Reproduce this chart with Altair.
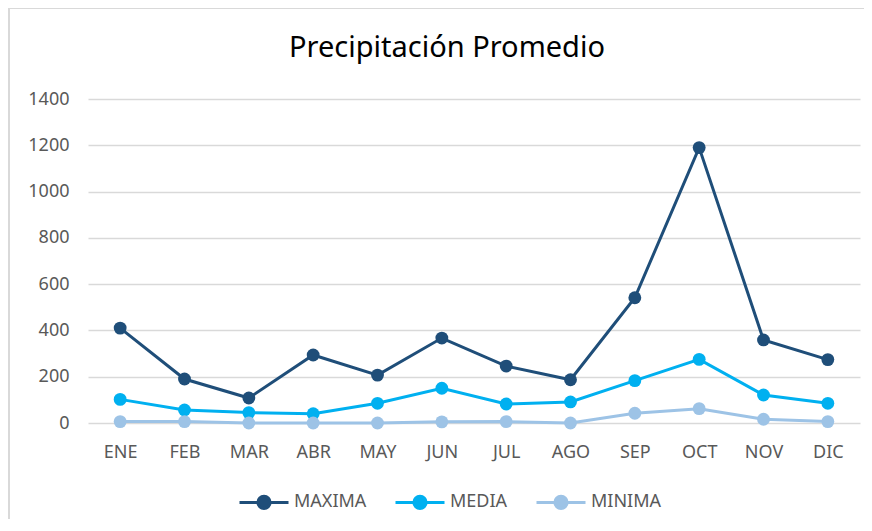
import altair as alt
import pandas as pd

months = ["ENE", "FEB", "MAR", "ABR", "MAY", "JUN", "JUL", "AGO", "SEP", "OCT", "NOV", "DIC"]
series = ["MAXIMA", "MEDIA", "MINIMA"]
maxima = [410, 190, 108, 294, 207, 367, 246, 187, 541, 1190, 359, 274]
media = [102, 56, 45, 40, 85, 150, 82, 91, 183, 275, 121, 85]
minima = [6, 6, 0, 0, 0, 5, 6, 0, 42, 62, 16, 6]
colors = ["#1F4E79", "#00B0F0", "#9DC3E6"]
y_ticks = [0, 200, 400, 600, 800, 1000, 1200, 1400]

rows = []
for name, vals in zip(series, [maxima, media, minima]):
    for m, v in zip(months, vals):
        rows.append({"Mes": m, "Serie": name, "Valor": v})
df = pd.DataFrame(rows)

FONT = "Noto Sans"
TXT = "#595959"
GRID = "#D9D9D9"

legend_path = ("M-1,0H1M0.25,0A0.25,0.25,0,1,1,-0.25,0"
               "A0.25,0.25,0,1,1,0.25,0Z")

x_enc = alt.X("Mes:N", sort=months,
              scale=alt.Scale(type="point", padding=0.5),
              axis=alt.Axis(title=None, labelAngle=0, ticks=False, domain=False,
                            grid=False, labelFontSize=18, labelColor=TXT,
                            labelFont=FONT, labelPadding=20))
y_enc = alt.Y("Valor:Q",
              scale=alt.Scale(domain=[0, 1400], nice=False),
              axis=alt.Axis(title=None, values=y_ticks, format="d", ticks=False,
                            domain=False, gridColor=GRID, gridWidth=1.5,
                            labelFontSize=18, labelColor=TXT, labelFont=FONT,
                            labelPadding=19))
color_enc = alt.Color("Serie:N", sort=series,
                      scale=alt.Scale(domain=series, range=colors),
                      legend=alt.Legend(title=None, orient="none", direction="horizontal",
                                        legendX=150, legendY=377,
                                        symbolType=legend_path, symbolSize=2401,
                                        symbolStrokeWidth=3, labelFontSize=18,
                                        labelColor=TXT, labelFont=FONT,
                                        labelOffset=4, columnPadding=22))

base = alt.Chart(df)
lines = base.mark_line(strokeWidth=3).encode(
    x=x_enc, y=y_enc, color=color_enc,
    order=alt.Order("Serie:N"))
points = base.mark_point(filled=True, size=165, opacity=1).encode(
    x=x_enc, y=y_enc, color=alt.Color("Serie:N", sort=series,
                                      scale=alt.Scale(domain=series, range=colors)))

frame = pd.DataFrame({"a": [0]})
border_top = alt.Chart(frame).mark_rect(color=GRID).encode(
    x=alt.value(-80), x2=alt.value(776), y=alt.value(-92), y2=alt.value(-90))
border_left = alt.Chart(frame).mark_rect(color=GRID).encode(
    x=alt.value(-80), x2=alt.value(-78), y=alt.value(-92), y2=alt.value(424))

chart = alt.layer(border_top, border_left, lines, points).properties(
    width=772, height=324,
    autosize=alt.AutoSizeParams(type="none"),
    padding={"left": 80, "top": 91, "right": 4, "bottom": 96},
    title=alt.TitleParams("Precipitación Promedio", fontSize=29, font=FONT,
                          fontWeight="normal", color="#000000", anchor="middle",
                          baseline="alphabetic", dx=-27, dy=79, offset=0),
).configure(background="white").configure_view(stroke=None)

chart.save("out.html", embed_options={"renderer": "svg", "actions": False})
